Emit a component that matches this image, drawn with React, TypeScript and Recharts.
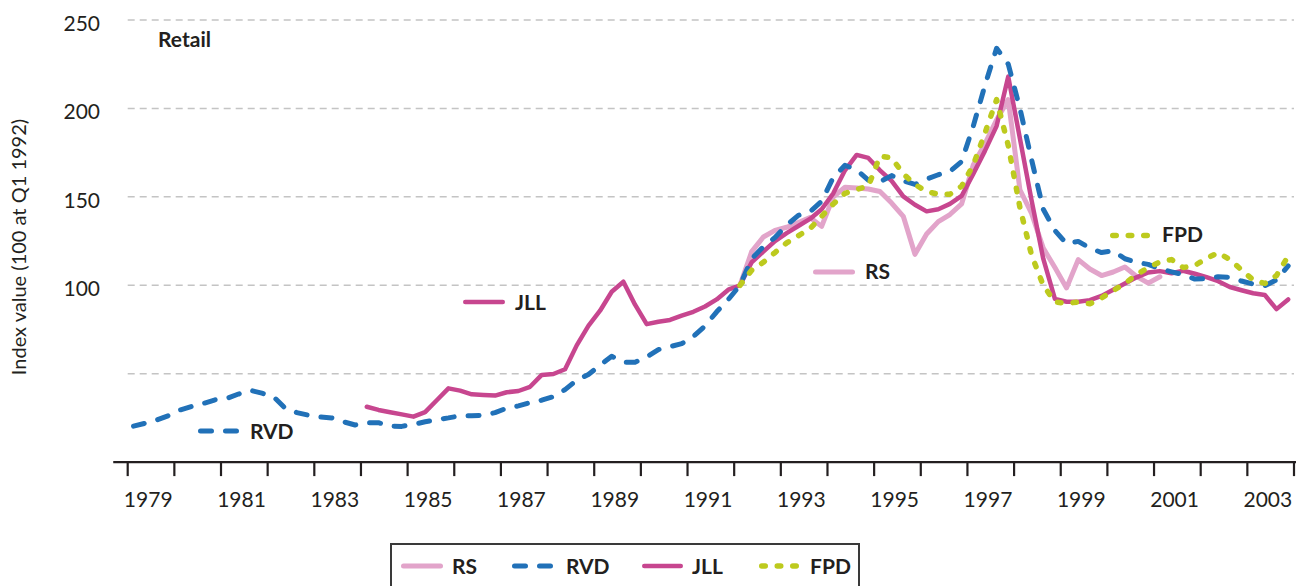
import React from "react";
import { LineChart, Line, XAxis, YAxis, CartesianGrid, ReferenceLine } from "recharts";

const W = 1296;
const H = 586;
const INK = "#231f20";
const FONT = "Lato, 'Open Sans', sans-serif";

// quarterly categories 1979 Q1 .. 2003 Q4
const quarters = Array.from({ length: 100 }, (_, i) => `${1979 + Math.floor(i / 4)} Q${(i % 4) + 1}`);

const rvd = [
  20.3, 22, 23.8, 26.3, 29.5, 31.5, 33.2, 35.2, 36, 38.5,
  40.6, 39, 37, 30.5, 28, 26.5, 25.5, 25, 22.8, 21,
  22.3, 22.3, 20.3, 20.2, 21.3, 22.8, 24, 25, 26.2, 26.2,
  26.5, 28, 30.5, 31.8, 33.6, 35, 37, 41, 46.3, 49.5,
  54.8, 59.8, 56.5, 56.5, 59.5, 63.6, 65.3, 67, 71, 77,
  85, 92, 100, 115, 121.8, 127, 134, 139.5, 141.6, 147.5,
  161, 167.8, 165.3, 159.5, 158.5, 162, 159, 157, 160, 162.5,
  164.3, 170, 190, 213, 234, 225, 200, 171, 143, 131,
  123.5, 124.8, 121, 118.5, 119.5, 115, 113, 111.8, 109.3, 107.6,
  106, 103.5, 103.7, 104.8, 104.5, 102.4, 100.7, 99.8, 103, 111,
];

const jll = [
  ...Array(20).fill(null),
  31.3, 29.5, 28.2, 27, 25.7, 28.3, 35, 41.7, 40.4, 38.3,
  38, 37.6, 39.5, 40.2, 42.6, 49.3, 49.8, 52.5, 66, 77,
  85.6, 96.3, 102, 89, 78, 79.4, 80.4, 82.8, 85, 88,
  92, 97.5, 100, 113, 119, 125, 129.5, 133.5, 137.5, 143,
  152, 165, 173.7, 172, 165, 159, 150.3, 145.5, 141.8, 143,
  146, 150.5, 163, 176, 190, 218, 183, 148, 115, 92.3,
  90.7, 90.7, 91.6, 94, 97.5, 101, 104.5, 107.2, 108, 106.8,
  108.2, 106.5, 104.6, 102.3, 99, 97.2, 95.5, 94.5, 86.5, 92,
];

const rs = [
  ...Array(52).fill(null),
  100, 119, 127.3, 131, 132.8, 135.5, 138.3, 133.3,
  150, 155.4, 155, 154.4, 153, 146.5, 139, 117.5, 129, 136,
  140, 146, 168, 180, 193.5, 205, 154, 140.6, 121, 110,
  98.5, 114.5, 109.2, 105.5, 107.5, 110.3, 105, 101.2, 104.8,
  ...Array(11).fill(null),
];

const fpd = [
  ...Array(52).fill(null),
  100, 108.5, 113, 118.5, 124, 128, 132, 139,
  146, 152, 154.2, 156, 173, 172, 163, 157, 153, 151.5,
  151.5, 156, 168, 186, 205, 179, 144, 117, 100, 90.5,
  89.8, 90.5, 89.5, 92.8, 97, 101, 106, 110, 113.2, 114.5,
  110, 111.2, 115.2, 118.4, 114.5, 108.7, 103, 101, 105.5, 116.5,
];

const yearTicks = Array.from({ length: 26 }, (_, i) => 1979 + i);
const labelYears = [1979, 1981, 1983, 1985, 1987, 1989, 1991, 1993, 1995, 1997, 1999, 2001, 2003];
const yTicks = [50, 100, 150, 200, 250];

const series = [
  { key: "rs", name: "RS", color: "#e2a4ca", dash: undefined as string | undefined, width: 5 },
  { key: "rvd", name: "RVD", color: "#2171b8", dash: "11 14", width: 5 },
  { key: "jll", name: "JLL", color: "#c7468f", dash: undefined as string | undefined, width: 4.5 },
  { key: "fpd", name: "FPD", color: "#bdca1e", dash: "3.5 12", width: 5.5 },
];
const drawOrder = ["rs", "jll", "rvd", "fpd"];

const rows = quarters.map((q, i) => {
  const [yr, qq] = q.split(" Q");
  return {
    q,
    t: Number(yr) + (Number(qq) - 0.5) / 4,
    rvd: rvd[i],
    jll: jll[i],
    rs: rs[i],
    fpd: fpd[i],
  };
});

const XTick = (props: any) => {
  const { x, y, payload } = props;
  const v = payload.value as number;
  if (Number.isInteger(v)) {
    return <line x1={x} x2={x} y1={y} y2={y + 14} stroke={INK} strokeWidth={2.2} />;
  }
  return (
    <text x={x} y={y + 44.5} textAnchor="middle" fill={INK} fontSize={21} fontFamily={FONT}>
      {Math.floor(v)}
    </text>
  );
};

const YTick = (props: any) => {
  const { x, y, payload } = props;
  if (payload.value < 100) return <g />;
  return (
    <text x={x} y={y + 11} textAnchor="end" fill={INK} fontSize={21} fontFamily={FONT}>
      {payload.value}
    </text>
  );
};

function Sample({ x1, x2, y, s }: { x1: number; x2: number; y: number; s: (typeof series)[number] }) {
  return (
    <line
      x1={x1 + s.width / 2}
      x2={x2 - s.width / 2}
      y1={y}
      y2={y}
      stroke={s.color}
      strokeWidth={s.width}
      strokeLinecap="round"
      strokeDasharray={s.dash}
    />
  );
}

const bold = { fill: INK, fontSize: 21, fontWeight: 700, fontFamily: FONT };
const byKey = (k: string) => series.find((s) => s.key === k)!;

// inline labels: [key, sampleStart, sampleEnd, lineY, textX, baseline]
const inline: [string, number, number, number, number, number][] = [
  ["rvd", 198, 240, 431, 250, 438.5],
  ["jll", 463, 505, 302, 515, 309.5],
  ["rs", 813, 855, 272, 865, 279],
  ["fpd", 1110, 1152, 235.5, 1162, 242],
];

// legend: [sampleStart, sampleEnd, textX]
const legendPos = [
  [401, 443, 452],
  [512, 553, 566],
  [642, 683, 692],
  [759, 801, 810],
];

export default function App() {
  return (
    <div style={{ position: "relative", width: W, height: H, overflow: "hidden", background: "#fff" }}>
      <style>{"body{margin:0}"}</style>
      <LineChart width={W} height={H} data={rows} margin={{ top: 20, right: 2, bottom: 63.9, left: 27.7 }}>
        <CartesianGrid vertical={false} stroke="#c4c4c4" strokeWidth={1.5} strokeDasharray="7 5" />
        <XAxis
          dataKey="t"
          type="number"
          domain={[1979, 2004]}
          ticks={[...yearTicks, ...labelYears.map((y) => y + 0.44)]}
          interval={0}
          axisLine={false}
          tickLine={false}
          tickSize={0}
          tickMargin={0}
          height={60}
          tick={<XTick />}
        />
        <YAxis
          domain={[0, 250]}
          ticks={yTicks}
          width={100}
          axisLine={false}
          tickLine={false}
          tickSize={0}
          tickMargin={27.7}
          tick={<YTick />}
        />
        <ReferenceLine
          segment={[
            { x: 1978.69, y: 0 },
            { x: 2004.05, y: 0 },
          ]}
          stroke={INK}
          strokeWidth={2.4}
          ifOverflow="visible"
        />
        {drawOrder.map((k) => {
          const s = byKey(k);
          return (
            <Line
              key={k}
              dataKey={k}
              name={s.name}
              stroke={s.color}
              strokeWidth={s.width}
              strokeDasharray={s.dash}
              strokeLinecap="round"
              strokeLinejoin="round"
              dot={false}
              activeDot={false}
              isAnimationActive={false}
            />
          );
        })}
      </LineChart>
      <svg
        width={W}
        height={H}
        style={{ position: "absolute", left: 0, top: 0, pointerEvents: "none" }}
      >
        <text
          transform="translate(26 247) rotate(-90)"
          textAnchor="middle"
          fill={INK}
          fontSize={20}
          fontFamily={FONT}
        >
          Index value (100 at Q1 1992)
        </text>
        <text x={158} y={46.5} {...bold}>
          Retail
        </text>
        {inline.map(([k, a, b, ly, tx, by]) => {
          const s = byKey(k);
          return (
            <g key={k}>
              <Sample x1={a} x2={b} y={ly} s={s} />
              <text x={tx} y={by} {...bold}>
                {s.name}
              </text>
            </g>
          );
        })}
        <rect x={391} y={544} width={468} height={60} fill="none" stroke="#3a3a3a" strokeWidth={2} />
        {series.map((s, i) => (
          <g key={s.key}>
            <Sample x1={legendPos[i][0]} x2={legendPos[i][1]} y={566} s={s} />
            <text x={legendPos[i][2]} y={573.5} {...bold}>
              {s.name}
            </text>
          </g>
        ))}
      </svg>
    </div>
  );
}
